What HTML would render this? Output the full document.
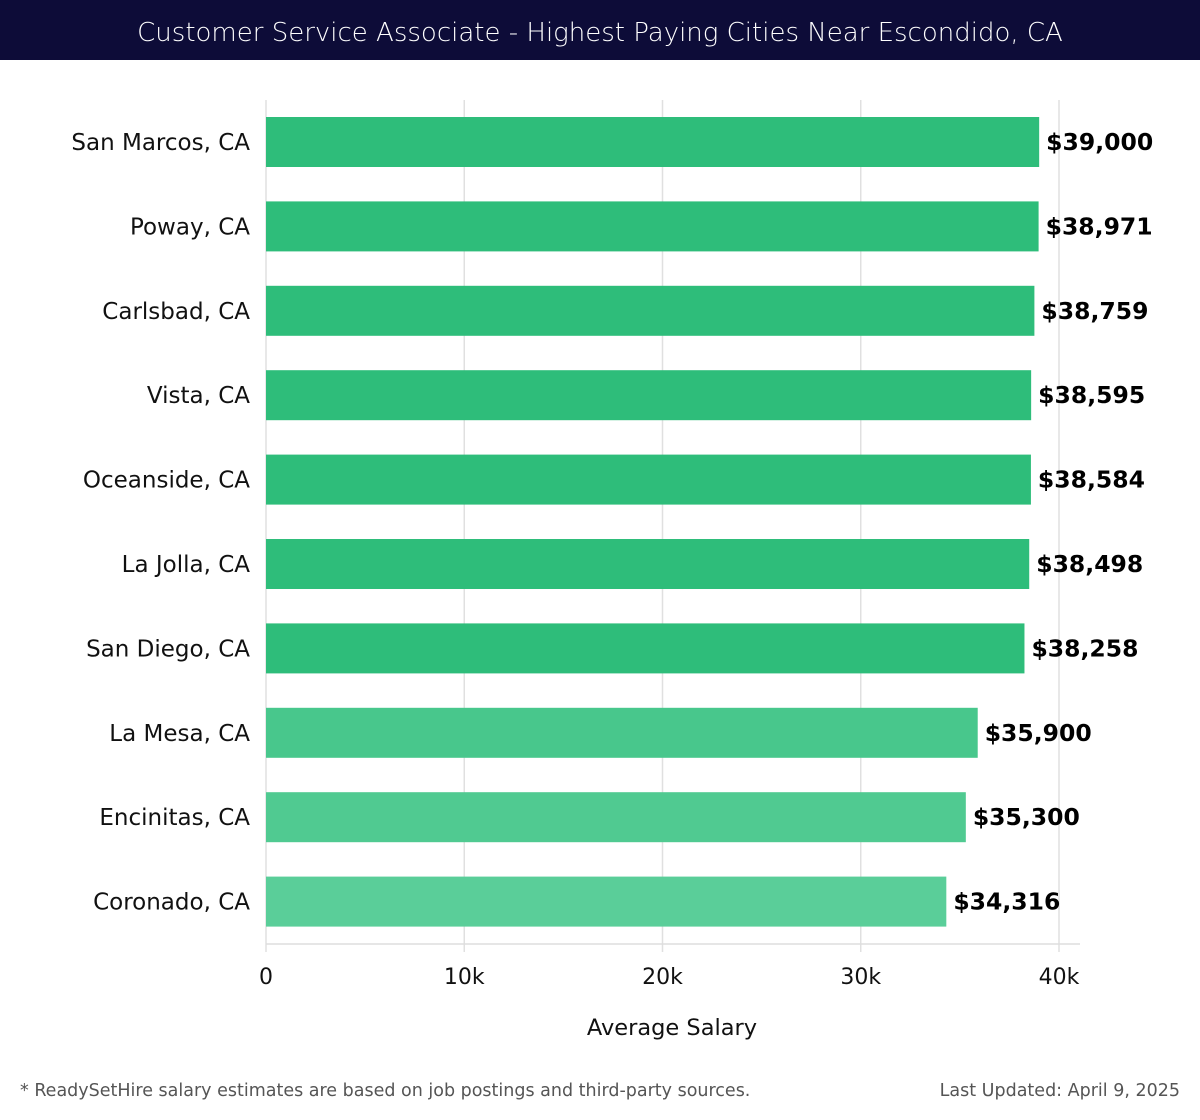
<!DOCTYPE html>
<html><head><meta charset="utf-8"><style>
body{margin:0;width:1200px;height:1120px;background:#fff;font-family:"DejaVu Sans","Liberation Sans",sans-serif;overflow:hidden}
#title{position:absolute;left:0;top:0;width:1200px;height:60px;background:#0d0c38;color:#fff;font-size:26px;line-height:66px;text-align:center;font-family:"DejaVu Sans","Liberation Sans",sans-serif;font-weight:300}
.foot{position:absolute;top:1081px;font-size:17.5px;color:#555;font-family:"DejaVu Sans","Liberation Sans",sans-serif}
svg text{font-family:"DejaVu Sans","Liberation Sans",sans-serif}
</style></head><body>
<div id="title">Customer Service Associate - Highest Paying Cities Near Escondido, CA</div>
<svg id="chart" width="1200" height="1060" style="position:absolute;left:0;top:0"></svg>
<div class="foot" style="left:20px">* ReadySetHire salary estimates are based on job postings and third-party sources.</div>
<div class="foot" style="right:20px">Last Updated: April 9, 2025</div>
<script>
const categories=["San Marcos, CA","Poway, CA","Carlsbad, CA","Vista, CA","Oceanside, CA","La Jolla, CA","San Diego, CA","La Mesa, CA","Encinitas, CA","Coronado, CA"];
const salaries=[39000,38971,38759,38595,38584,38498,38258,35900,35300,34316];
const tickValues=[0,10000,20000,30000,40000];
const tickLabels=["0","10k","20k","30k","40k"];
const colors=["#2ebd7a","#2ebd7a","#2ebd7a","#2ebd7a","#2ebd7a","#2ebd7a","#2ebd7a","#48c78c","#50ca91","#5ace99"];
const NS="http://www.w3.org/2000/svg";
const svg=document.getElementById('chart');
const x0=266,x1=1059,plotTop=100,plotBottom=944,step=84.4,barH=50;
const xs=v=>x0+(v-0)/(40000)*(x1-x0);
const yc=i=>142+i*step;
function mk(t,a){const e=document.createElementNS(NS,t);for(const k in a)e.setAttribute(k,a[k]);svg.appendChild(e);return e;}
tickValues.forEach((v,i)=>{
 const g=mk('line',{x1:xs(v),x2:xs(v),y1:plotTop,y2:952,stroke:'#e0e0e0','stroke-width':1.5});
 
 
 const t=mk('text',{x:xs(v),y:984,'text-anchor':'middle','font-size':22,fill:'#111'});
 t.textContent=tickLabels[i];
 
 
});
const ax=mk('line',{x1:x0,x2:1080,y1:plotBottom,y2:plotBottom,stroke:'#ddd','stroke-width':1.5});


categories.forEach((c,i)=>{
 const y=yc(i);
 const r=mk('rect',{x:x0,y:y-barH/2,width:xs(salaries[i])-x0,height:barH,fill:colors[i]});
 
 
 const l=mk('text',{x:250,y:y+8,'text-anchor':'end','font-size':23,fill:'#111'});
 l.textContent=c;
 
 
 const v=mk('text',{x:xs(salaries[i])+7,y:y+8,'font-size':23.5,'font-weight':'bold',fill:'#000'});
 v.textContent='$'+salaries[i].toLocaleString('en-US');
 
 
});
const xt=mk('text',{x:672,y:1035,'text-anchor':'middle','font-size':22.5,fill:'#111'});
xt.textContent='Average Salary';


</script>
</body></html>
